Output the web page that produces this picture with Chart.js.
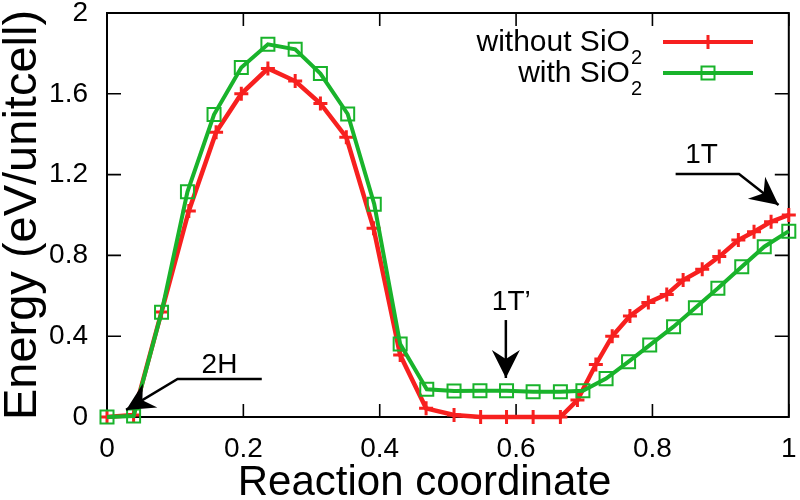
<!DOCTYPE html>
<html>
<head>
<meta charset="utf-8">
<script src="https://cdn.jsdelivr.net/npm/chart.js@4/dist/chart.umd.min.js"></script>
<style>
  body { margin: 0; background: #fff; }
  canvas { display: block; }
</style>
</head>
<body>
<canvas id="energyChart" width="800" height="500"></canvas>
<script>
  // Values
  const coordWithout = [0, 0.039, 0.080, 0.120, 0.160, 0.197, 0.236, 0.276, 0.313, 0.351, 0.391, 0.430, 0.468, 0.509, 0.548, 0.586,
    0.625, 0.665, 0.690, 0.717, 0.741, 0.767, 0.794, 0.821, 0.845, 0.873, 0.898, 0.926, 0.949, 0.974, 1.0];
  const energyWithout = [0, 0.01, 0.52, 1.02, 1.41, 1.60, 1.725, 1.663, 1.552, 1.385, 0.934, 0.307, 0.043, 0.01, 0, 0,
    0, 0, 0.084, 0.26, 0.40, 0.50, 0.567, 0.607, 0.678, 0.731, 0.794, 0.876, 0.917, 0.967, 1.0];

  const coordWith = [0, 0.039, 0.080, 0.118, 0.157, 0.197, 0.236, 0.276, 0.313, 0.353, 0.392, 0.430, 0.469, 0.509,
    0.547, 0.586, 0.625, 0.665, 0.698, 0.732, 0.765, 0.796, 0.831, 0.863, 0.896, 0.931, 0.964, 1.0];
  const energyWith = [0, 0.005, 0.518, 1.115, 1.497, 1.73, 1.845, 1.82, 1.70, 1.50, 1.053, 0.361, 0.137, 0.129,
    0.13, 0.13, 0.125, 0.125, 0.13, 0.19, 0.274, 0.356, 0.447, 0.541, 0.637, 0.744, 0.843, 0.92];

  const xTickValues = [0, 0.2, 0.4, 0.6, 0.8, 1];
  const yTickValues = [0, 0.4, 0.8, 1.2, 1.6, 2];

  const seriesNames = ["without SiO", "with SiO"];
  const RED = "#f7201f";
  const GREEN = "#19b32b";
  const FONT = "'Liberation Sans', Arial, sans-serif";

  // phase labels, placed in data coordinates (last point of each path is the arrow tip)
  const phaseNotes = [
    { text: "2H", at: [0.165, 0.218], path: [[0.227, 0.188], [0.1035, 0.188], [0.028, 0.035]] },
    { text: "1T\u2019", at: [0.593, 0.53], path: [[0.585, 0.48], [0.585, 0.193]] },
    { text: "1T", at: [0.872, 1.257], path: [[0.834, 1.203], [0.927, 1.203], [0.985, 1.05]] },
  ];

  function toPoints(xs, ys) {
    return xs.map((x, i) => ({ x: x, y: ys[i] }));
  }

  function fmt(v) {
    return String(Math.round(v * 10) / 10);
  }

  function drawArrow(ctx, pts) {
    ctx.beginPath();
    ctx.moveTo(pts[0][0], pts[0][1]);
    for (let i = 1; i < pts.length; i++) ctx.lineTo(pts[i][0], pts[i][1]);
    ctx.stroke();
    const [tx, ty] = pts[pts.length - 1];
    const [px, py] = pts[pts.length - 2];
    ctx.save();
    ctx.translate(tx, ty);
    ctx.rotate(Math.atan2(ty - py, tx - px));
    ctx.beginPath();
    ctx.moveTo(0, 0);
    ctx.lineTo(-28, -14);
    ctx.lineTo(-19, 0);
    ctx.lineTo(-28, 14);
    ctx.closePath();
    ctx.fill();
    ctx.restore();
  }

  function drawMarker(ctx, kind, x, y, color) {
    ctx.save();
    ctx.strokeStyle = color;
    ctx.beginPath();
    if (kind === "cross") {
      ctx.lineWidth = 3;
      ctx.moveTo(x, y - 7); ctx.lineTo(x, y + 7);
      ctx.moveTo(x - 7, y); ctx.lineTo(x + 7, y);
    } else {
      ctx.lineWidth = 2;
      ctx.rect(x - 6.5, y - 6.5, 13, 13);
    }
    ctx.stroke();
    ctx.restore();
  }

  // box round the plot with gnuplot style inward ticks on all four sides
  const frameTicks = {
    id: "frameTicks",
    beforeDatasetsDraw(chart) {
      const { ctx, chartArea: a, scales: { x, y } } = chart;
      ctx.save();
      ctx.strokeStyle = "#000";
      ctx.lineWidth = 2;
      ctx.strokeRect(a.left, a.top, a.right - a.left, a.bottom - a.top);
      ctx.lineWidth = 1.6;
      ctx.beginPath();
      x.ticks.forEach((t) => {
        const px = x.getPixelForValue(t.value);
        ctx.moveTo(px, a.bottom); ctx.lineTo(px, a.bottom - 13);
        ctx.moveTo(px, a.top); ctx.lineTo(px, a.top + 13);
      });
      y.ticks.forEach((t) => {
        const py = y.getPixelForValue(t.value);
        ctx.moveTo(a.left, py); ctx.lineTo(a.left + 14, py);
        ctx.moveTo(a.right, py); ctx.lineTo(a.right - 14, py);
      });
      ctx.stroke();
      ctx.restore();
    },
  };

  const notesAndKey = {
    id: "notesAndKey",
    afterDatasetsDraw(chart) {
      const { ctx, scales: { x, y } } = chart;
      ctx.save();
      ctx.fillStyle = "#000";
      ctx.strokeStyle = "#000";
      ctx.lineWidth = 2.5;
      ctx.font = "28px " + FONT;
      ctx.textAlign = "center";
      ctx.textBaseline = "alphabetic";
      phaseNotes.forEach((n) => {
        ctx.fillText(n.text, x.getPixelForValue(n.at[0]), y.getPixelForValue(n.at[1]));
        drawArrow(ctx, n.path.map((p) => [x.getPixelForValue(p[0]), y.getPixelForValue(p[1])]));
      });

      // key, top right
      const rows = [
        { name: seriesNames[0], color: RED, marker: "cross", y: 42 },
        { name: seriesNames[1], color: GREEN, marker: "rect", y: 73 },
      ];
      rows.forEach((r) => {
        ctx.font = "20px " + FONT;
        ctx.textAlign = "right";
        ctx.fillText("2", 642, r.y + 22);
        const subW = ctx.measureText("2").width;
        ctx.font = "30px " + FONT;
        ctx.fillText(r.name, 642 - subW - 1, r.y + 9);
        ctx.strokeStyle = r.color;
        ctx.lineWidth = 4;
        ctx.beginPath();
        ctx.moveTo(663, r.y); ctx.lineTo(753, r.y);
        ctx.stroke();
        drawMarker(ctx, r.marker, 708, r.y, r.color);
      });
      ctx.restore();
    },
  };

  Chart.defaults.font.family = FONT;
  Chart.defaults.color = "#000";

  new Chart(document.getElementById("energyChart").getContext("2d"), {
    type: "line",
    data: {
      datasets: [
        {
          label: seriesNames[0],
          data: toPoints(coordWithout, energyWithout),
          borderColor: RED,
          borderWidth: 4.5,
          pointStyle: "cross",
          pointRadius: 7,
          pointBorderWidth: 3,
          pointBorderColor: RED,
          pointBackgroundColor: RED,
          tension: 0,
          clip: false,
          order: 2,
        },
        {
          label: seriesNames[1],
          data: toPoints(coordWith, energyWith),
          borderColor: GREEN,
          borderWidth: 4,
          pointStyle: "rect",
          pointRadius: 9.2,
          pointBorderWidth: 2,
          pointBorderColor: GREEN,
          pointBackgroundColor: "transparent",
          tension: 0,
          clip: false,
          order: 1,
        },
      ],
    },
    options: {
      responsive: false,
      animation: false,
      devicePixelRatio: 1,
      layout: { padding: { top: 13, right: 7, left: 0, bottom: 0 } },
      plugins: {
        legend: { display: false },
        tooltip: { enabled: false },
      },
      scales: {
        x: {
          type: "linear",
          min: 0,
          max: 1,
          afterBuildTicks: (s) => { s.ticks = xTickValues.map((v) => ({ value: v })); },
          afterFit: (s) => {
            s.height = 83;
            s.paddingLeft = 0;
            s.paddingRight = 0;
          },
          ticks: {
            padding: 20,
            font: { size: 28, lineHeight: 0.9 },
            callback: (v) => fmt(v),
          },
          grid: { display: false, drawTicks: false },
          border: { display: false },
          title: {
            display: true,
            // the original title sits a little left of the axis centre
            text: "Reaction coordinate\u00a0\u00a0\u00a0\u00a0",
            font: { size: 42, lineHeight: 0.78 },
            padding: 0,
          },
        },
        y: {
          type: "linear",
          min: 0,
          max: 2,
          afterBuildTicks: (s) => { s.ticks = yTickValues.map((v) => ({ value: v })); },
          afterFit: (s) => {
            s.width = 107;
            s.paddingTop = 0;
            s.paddingBottom = 0;
          },
          ticks: {
            padding: 19,
            font: { size: 28, lineHeight: 0.9 },
            callback: (v) => fmt(v),
          },
          grid: { display: false, drawTicks: false },
          border: { display: false },
          title: {
            display: true,
            text: "Energy (eV/unitcell)",
            font: { size: 47, lineHeight: 1 },
            padding: 0,
          },
        },
      },
    },
    plugins: [frameTicks, notesAndKey],
  });
</script>
</body>
</html>
